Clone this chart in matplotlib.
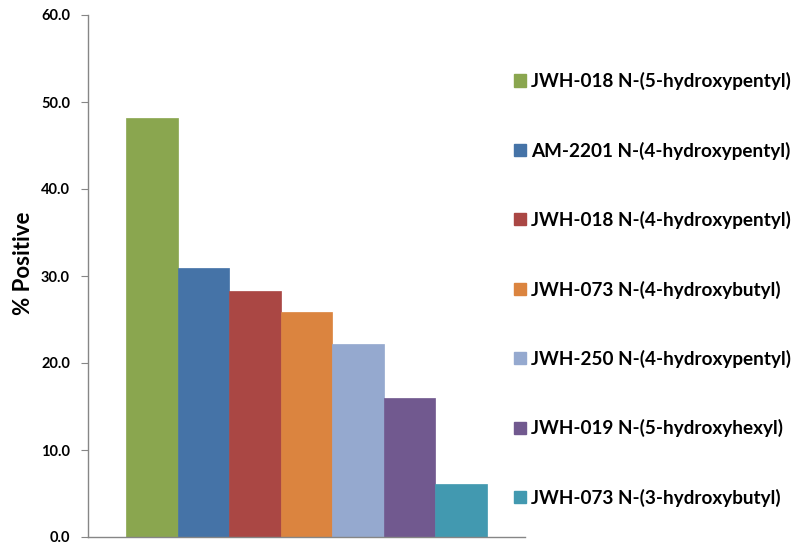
import matplotlib.pyplot as plt
from matplotlib.patches import Patch

# dados
compostos = [
    "JWH-018 N-(5-hydroxypentyl)",
    "AM-2201 N-(4-hydroxypentyl)",
    "JWH-018 N-(4-hydroxypentyl)",
    "JWH-073 N-(4-hydroxybutyl)",
    "JWH-250 N-(4-hydroxypentyl)",
    "JWH-019 N-(5-hydroxyhexyl)",
    "JWH-073 N-(3-hydroxybutyl)",
]
positivos = [48.2, 30.9, 28.3, 25.9, 22.2, 16.0, 6.1]
cores = ["#8AA64F", "#4573A7", "#AA4744", "#DB843F", "#95A9CF", "#71598F", "#4299B0"]
ticks_y = [0, 10, 20, 30, 40, 50, 60]

plt.rcParams['font.family'] = ['Lato', 'DejaVu Sans']

fig = plt.figure(figsize=(7.91, 5.44), dpi=100)
ax = fig.add_axes([88/791, 1 - 537/544, (525 - 88)/791, (537 - 15)/544])

for i, (v, c) in enumerate(zip(positivos, cores)):
    ax.bar(i, v, width=1.0, color=c, edgecolor=c, linewidth=0.5, label=compostos[i])

ax.set_xlim(-0.5 - 0.74, len(positivos) - 0.5 + 0.74)
ax.set_ylim(0, 60)
ax.set_yticks(ticks_y)
ax.set_yticklabels(["%.1f" % t for t in ticks_y], fontsize=10.5, fontweight='bold')
ax.set_xticks([])

for lado in ['top', 'right']:
    ax.spines[lado].set_visible(False)
for lado in ['left', 'bottom']:
    ax.spines[lado].set_color('#868686')
    ax.spines[lado].set_linewidth(1)
ax.tick_params(axis='y', length=5, color='#868686', pad=8)

ax.set_ylabel("% Positive", fontsize=16, fontweight='bold')
ax.yaxis.set_label_coords(-0.124, 0.525)

handles = [Patch(facecolor=c, edgecolor=c) for c in cores]
fig.legend(handles, compostos, loc='upper left', bbox_to_anchor=(514/791, 1 - 72/544),
           frameon=False, prop={'weight': 'bold', 'size': 13.6},
           labelspacing=2.72, handlelength=0.62, handleheight=0.62, handletextpad=0.3,
           borderaxespad=0, borderpad=0)

fig.savefig("out.png", dpi=100)
